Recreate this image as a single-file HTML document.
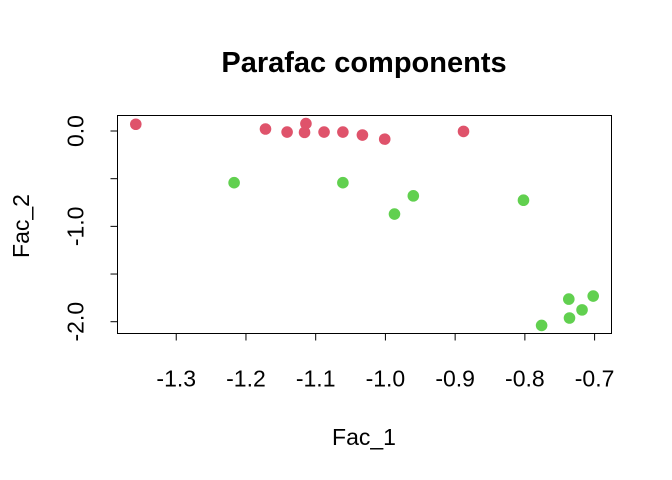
<!DOCTYPE html>
<html><head><meta charset="utf-8"><style>
html,body{margin:0;padding:0;background:#fff;}
svg{display:block;font-family:"Liberation Sans",Arial,sans-serif;}
</style></head><body>
<svg id="chart" width="672" height="480" viewBox="0 0 672 480" xmlns="http://www.w3.org/2000/svg">
<rect width="672" height="480" fill="#fff"/>
<text x="364" y="72" font-size="29" font-weight="bold" text-anchor="middle">Parafac components</text>
<text x="364" y="445" font-size="23" text-anchor="middle">Fac_1</text>
<text x="0" y="0" font-size="23" text-anchor="middle" transform="translate(29,226) rotate(-90)">Fac_2</text>
<rect x="117.5" y="115.5" width="494" height="218" fill="none" stroke="#000" stroke-width="1"/>
<g id="xaxis"></g>
<g id="yaxis"></g>
<g id="points"></g>
</svg>
<script>
const xTicks = [-1.3, -1.2, -1.1, -1.0, -0.9, -0.8, -0.7];
const xTickLabels = ["-1.3", "-1.2", "-1.1", "-1.0", "-0.9", "-0.8", "-0.7"];
const yTicks = [0, -0.5, -1, -1.5, -2];
const yTickLabels = ["0.0", "", "-1.0", "", "-2.0"];
const groupA_x = [-1.358, -1.172, -1.141, -1.116, -1.114, -1.088, -1.061, -1.033, -1.001, -0.888];
const groupA_y = [0.071, 0.021, -0.011, -0.014, 0.078, -0.011, -0.011, -0.042, -0.085, -0.004];
const groupB_x = [-1.217, -1.061, -0.987, -0.960, -0.802, -0.776, -0.737, -0.736, -0.718, -0.702];
const groupB_y = [-0.542, -0.542, -0.871, -0.680, -0.726, -2.039, -1.763, -1.961, -1.876, -1.731];

const NS = "http://www.w3.org/2000/svg";
const L = 117.5, R = 611.5, T = 115.5, B = 333.5;
const allX = groupA_x.concat(groupB_x), allY = groupA_y.concat(groupB_y);
let xmin = Math.min(...allX), xmax = Math.max(...allX);
let ymin = Math.min(...allY), ymax = Math.max(...allY);
const px = (xmax - xmin) * 0.04, py = (ymax - ymin) * 0.04;
xmin -= px; xmax += px; ymin -= py; ymax += py;
const sx = v => L + (v - xmin) / (xmax - xmin) * (R - L);
const sy = v => B - (v - ymin) / (ymax - ymin) * (B - T);

const xa = document.getElementById('xaxis');
const xl = document.createElementNS(NS, 'line');


xl.setAttribute('x1', sx(xTicks[0])); xl.setAttribute('x2', sx(xTicks[xTicks.length-1]));
xl.setAttribute('y1', B); xl.setAttribute('y2', B); xl.setAttribute('stroke', '#000');
xa.appendChild(xl);
xTicks.forEach((t, i) => {
  const x = sx(t);
  const ln = document.createElementNS(NS, 'line');
  
  
  ln.setAttribute('x1', x); ln.setAttribute('x2', x); ln.setAttribute('y1', B); ln.setAttribute('y2', B + 7);
  ln.setAttribute('stroke', '#000');
  xa.appendChild(ln);
  const tx = document.createElementNS(NS, 'text');
  
  
  tx.setAttribute('x', x); tx.setAttribute('y', B + 53);
  tx.setAttribute('font-size', '23'); tx.setAttribute('text-anchor', 'middle');
  tx.textContent = xTickLabels[i];
  xa.appendChild(tx);
});
const ya = document.getElementById('yaxis');
const yl = document.createElementNS(NS, 'line');


yl.setAttribute('x1', L); yl.setAttribute('x2', L);
yl.setAttribute('y1', sy(yTicks[0])); yl.setAttribute('y2', sy(yTicks[yTicks.length-1])); yl.setAttribute('stroke', '#000');
ya.appendChild(yl);
yTicks.forEach((t, i) => {
  const y = sy(t);
  const ln = document.createElementNS(NS, 'line');
  
  
  ln.setAttribute('x1', L - 7); ln.setAttribute('x2', L); ln.setAttribute('y1', y); ln.setAttribute('y2', y);
  ln.setAttribute('stroke', '#000');
  ya.appendChild(ln);
  if (yTickLabels[i]) {
    const tx = document.createElementNS(NS, 'text');
    
    
    tx.setAttribute('x', 0); tx.setAttribute('y', 0);
    tx.setAttribute('font-size', '23'); tx.setAttribute('text-anchor', 'middle');
    tx.setAttribute('transform', 'translate(' + (L - 34) + ',' + y + ') rotate(-90)');
    tx.textContent = yTickLabels[i];
    ya.appendChild(tx);
  }
});
const pg = document.getElementById('points');
function drawGroup(xs, ys, color, name) {
  xs.forEach((v, i) => {
    const c = document.createElementNS(NS, 'circle');
    
    
    c.setAttribute('cx', sx(v)); c.setAttribute('cy', sy(ys[i]));
    c.setAttribute('r', 5.8); c.setAttribute('fill', color);
    pg.appendChild(c);
  });
}
drawGroup(groupA_x, groupA_y, '#DF536B', 'point-red');
drawGroup(groupB_x, groupB_y, '#61D04F', 'point-green');
</script>
</body></html>
